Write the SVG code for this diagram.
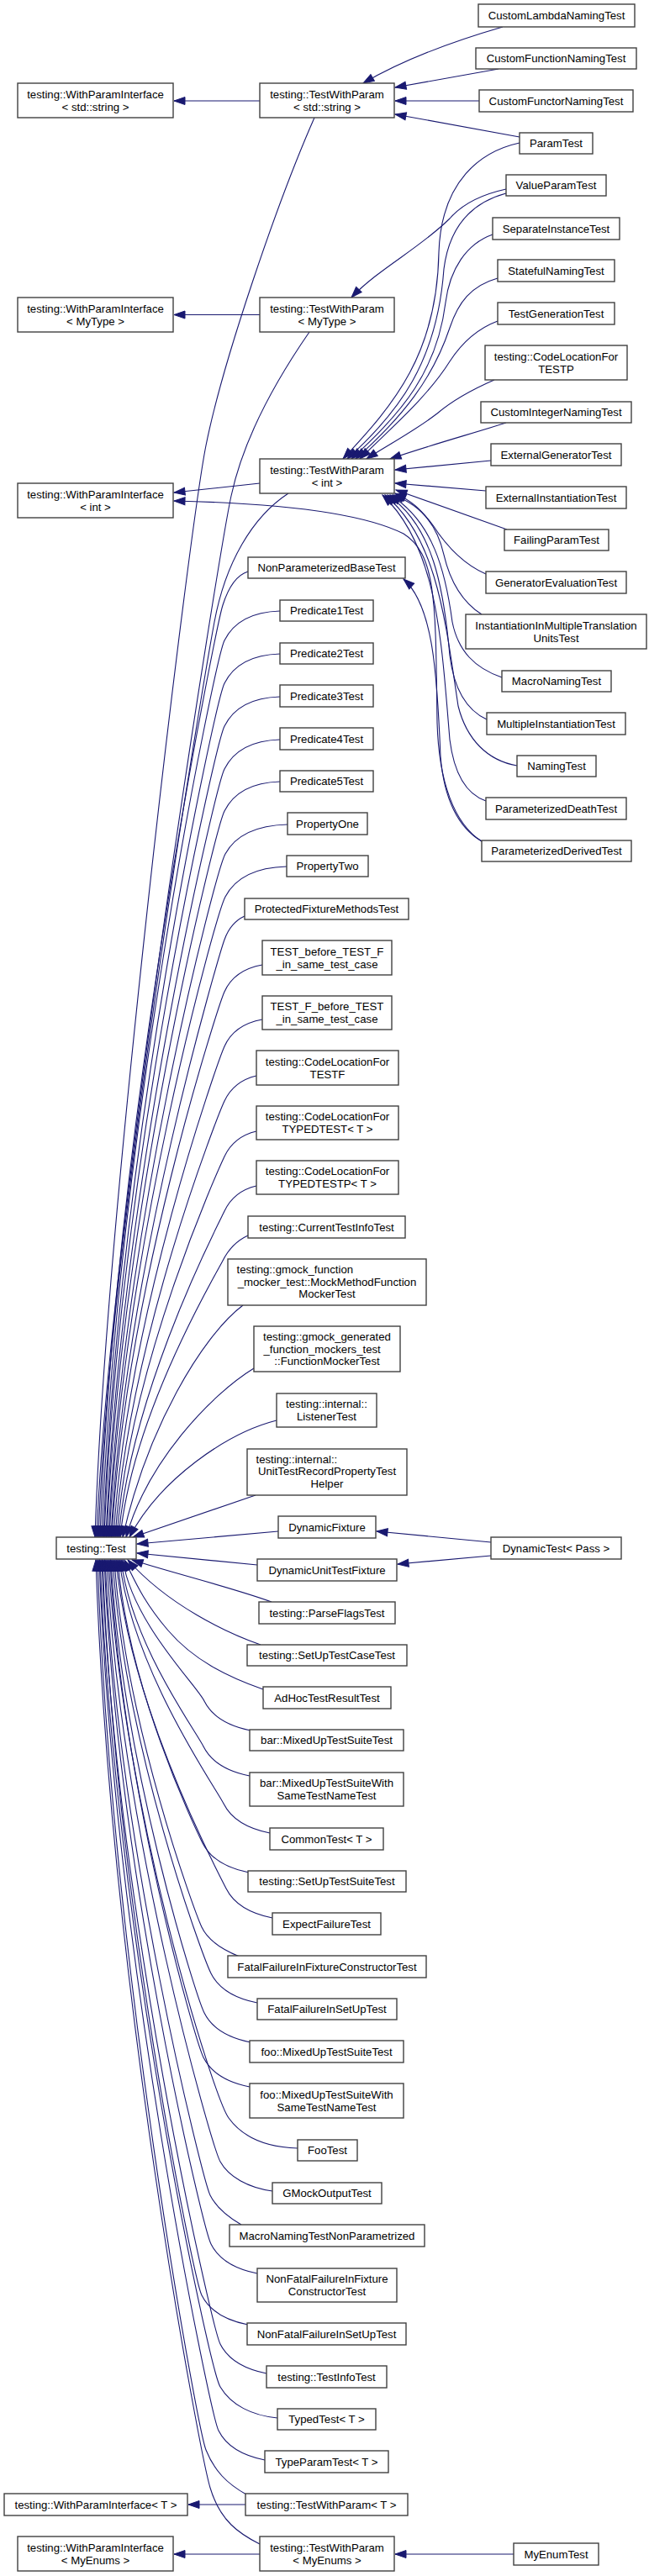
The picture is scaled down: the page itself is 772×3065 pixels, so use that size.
<svg xmlns="http://www.w3.org/2000/svg" width="772" height="3065" viewBox="0 0 772 3065">
<style>
.node rect{fill:#fff;stroke:#404040;stroke-width:1.4}
.node text{font-family:"Liberation Sans",Arial,sans-serif;font-size:13.2px;fill:#000;text-anchor:middle}
.node text.l{text-anchor:start}
#edges path{fill:none;stroke:#191970;stroke-width:1.1;marker-end:url(#arr)}
</style>
<defs>
<marker id="arr" markerUnits="userSpaceOnUse" markerWidth="14" markerHeight="11" refX="13" refY="5" orient="auto" overflow="visible">
<path d="M0,0.5 L13,5 L0,9.5 z" fill="#191970" stroke="#191970" stroke-width="1"/>
</marker>
</defs>
<rect width="772" height="3065" fill="#fff"/>
<g id="edges">
<path d="M309,120 L207,120"/>
<path d="M309,374.5 L207,374.5"/>
<path d="M309,575 L207,586"/>
<path d="M573,1001 C540,980 522,930 520,860 C518,720 520,660 480,635 C420,605 300,598 207,596"/>
<path d="M292,2980 L224,2980"/>
<path d="M309,3039 L207,3039"/>
<path d="M611,3039 L470,3039"/>
<path d="M598,32 C560,43 490,65 432,99"/>
<path d="M593,82 L470,104"/>
<path d="M570,120 L470,120"/>
<path d="M618,163 L470,136"/>
<path d="M602,225 C570,232 548,245 535,260 C500,295 450,320 418,354"/>
<path d="M618,170 C572,180 525,215 522,300 C520,420 470,480 408,546"/>
<path d="M602,230 C565,240 535,265 528,320 C520,430 475,490 413,546"/>
<path d="M586,279 C555,290 535,320 530,360 C520,440 480,490 418,546"/>
<path d="M592,331 C560,340 545,360 535,390 C515,450 480,495 423,546"/>
<path d="M592,382 C565,392 548,410 535,430 C510,470 470,505 428,546"/>
<path d="M588,452 C565,462 540,475 520,492 C490,515 460,530 436,546"/>
<path d="M602,503 C565,515 510,530 464,546"/>
<path d="M584,548 L470,559"/>
<path d="M578,584 L470,575"/>
<path d="M603,630 L471,583"/>
<path d="M578,683 C548,670 528,645 515,625 C500,605 488,595 470,587"/>
<path d="M573,731 C548,715 535,690 528,660 C520,625 500,600 467,589"/>
<path d="M597,806 C565,795 545,775 538,740 C530,680 515,620 464,589"/>
<path d="M579,856 C555,845 540,820 535,780 C528,700 515,625 461,589"/>
<path d="M615,911 C580,905 555,880 545,840 C530,740 520,640 458,589"/>
<path d="M578,953 C555,945 540,920 535,880 C525,760 520,650 455,589"/>
<path d="M573,1001 C545,985 528,950 524,900 C520,800 515,720 480,689"/>
<path d="M584,1835 L448,1822"/>
<path d="M584,1851 L473,1861"/>
<path d="M374,140 C330,240 265,430 245,530 S125,1450 113,1829"/>
<path d="M368,395 C330,450 290,520 275,590 S128,1480 115,1829"/>
<path d="M343,587 C300,615 268,670 255,740 S130,1470 117,1829"/>
<path d="M295,680 C282,684 272,698 265,720 S137,1330 119,1829"/>
<path d="M333,727 C300,728 278,740 267,762 S139,1349 121,1829"/>
<path d="M333,778 C300,779 278,791 267,813 S140,1372 123,1829"/>
<path d="M333,829 C300,830 278,842 267,864 S141,1395 124,1829"/>
<path d="M333,880 C300,881 278,893 267,915 S143,1418 126,1829"/>
<path d="M333,930 C300,931 278,943 267,965 S144,1440 127,1829"/>
<path d="M342,981 C305,982 280,994 268,1016 S146,1463 129,1829"/>
<path d="M341,1031 C305,1032 280,1044 268,1067 S147,1486 130,1829"/>
<path d="M291,1090 C280,1095 272,1104 267,1118 S148,1509 132,1829"/>
<path d="M312,1148 C290,1152 275,1162 267,1180 S149,1537 133,1829"/>
<path d="M312,1213 C290,1217 275,1227 267,1245 S151,1566 135,1829"/>
<path d="M305,1280 C288,1284 275,1293 267,1310 S153,1595 137,1829"/>
<path d="M305,1346 C288,1350 275,1359 267,1376 S154,1625 139,1829"/>
<path d="M305,1411 C288,1415 275,1424 267,1441 S156,1654 141,1829"/>
<path d="M295,1470 C282,1476 272,1486 265,1500 S158,1681 143,1829"/>
<path d="M289,1553 C240,1590 175,1700 146,1829"/>
<path d="M302,1628 C250,1660 175,1740 150,1829"/>
<path d="M329,1690 C270,1705 190,1760 154,1829"/>
<path d="M304,1779 L158,1829"/>
<path d="M331,1822 L163,1837"/>
<path d="M306,1862 L163,1848"/>
<path d="M323,1906 C280,1890 200,1870 157,1856"/>
<path d="M310,1957 C270,1943 200,1910 152,1856"/>
<path d="M313,2010 C270,1995 230,1975 200,1940 S160,1880 148,1856"/>
<path d="M298,2059 C273,2054 253,2044 243,2024 S158,1931 146,1856"/>
<path d="M297,2113 C272,2108 252,2098 242,2078 S156,1955 144,1856"/>
<path d="M321,2181 C296,2176 276,2166 266,2146 S157,1986 142,1856"/>
<path d="M296,2228 C271,2223 251,2213 241,2193 S152,2007 140,1856"/>
<path d="M324,2282 C299,2277 279,2267 269,2247 S154,2031 138,1856"/>
<path d="M285,2328 C265,2320 248,2310 240,2293 S149,2052 136,1856"/>
<path d="M306,2383 C281,2378 261,2368 251,2348 S148,2077 134,1856"/>
<path d="M298,2430 C273,2425 253,2415 243,2395 S145,2098 132,1856"/>
<path d="M297,2483 C272,2478 252,2468 242,2448 S144,2122 131,1856"/>
<path d="M354,2556 C320,2555 290,2545 272,2520 S146,2154 129,1856"/>
<path d="M324,2607 C295,2603 272,2590 262,2572 S143,2178 127,1856"/>
<path d="M287,2647 C275,2640 258,2628 250,2612 S140,2196 125,1856"/>
<path d="M306,2705 C281,2700 261,2690 251,2670 S139,2222 124,1856"/>
<path d="M295,2766 C270,2761 250,2751 240,2731 S136,2249 122,1856"/>
<path d="M317,2824 C292,2819 272,2809 262,2789 S138,2275 121,1856"/>
<path d="M330,2877 C300,2874 275,2862 262,2840 S136,2298 119,1856"/>
<path d="M315,2927 C290,2922 270,2912 260,2892 S135,2322 118,1856"/>
<path d="M293,2968 C270,2955 255,2940 245,2915 S132,2332 116,1856"/>
<path d="M309,3027 C285,3015 262,3000 250,2960 S131,2360 114,1856"/>
</g>
<g id="n_WPI_string" class="node"><rect x="21" y="99" width="185" height="41"/><text x="113.5" y="116.5">testing::WithParamInterface</text><text x="113.5" y="131.5">&lt; std::string &gt;</text></g>
<g id="n_WPI_MyType" class="node"><rect x="21" y="354" width="185" height="41"/><text x="113.5" y="371.5">testing::WithParamInterface</text><text x="113.5" y="386.5">&lt; MyType &gt;</text></g>
<g id="n_WPI_int" class="node"><rect x="21" y="575" width="185" height="41"/><text x="113.5" y="592.5">testing::WithParamInterface</text><text x="113.5" y="607.5">&lt; int &gt;</text></g>
<g id="n_Test" class="node"><rect x="67" y="1829" width="95" height="26"/><text x="114.5" y="1846.5">testing::Test</text></g>
<g id="n_WPI_T" class="node"><rect x="5" y="2967" width="218" height="26"/><text x="114" y="2984.5">testing::WithParamInterface&lt; T &gt;</text></g>
<g id="n_WPI_MyEnums" class="node"><rect x="21" y="3018" width="185" height="41"/><text x="113.5" y="3035.5">testing::WithParamInterface</text><text x="113.5" y="3050.5">&lt; MyEnums &gt;</text></g>
<g id="n_TWP_string" class="node"><rect x="309" y="99" width="160" height="41"/><text x="389" y="116.5">testing::TestWithParam</text><text x="389" y="131.5">&lt; std::string &gt;</text></g>
<g id="n_TWP_MyType" class="node"><rect x="309" y="354" width="160" height="41"/><text x="389" y="371.5">testing::TestWithParam</text><text x="389" y="386.5">&lt; MyType &gt;</text></g>
<g id="n_TWP_int" class="node"><rect x="309" y="546" width="160" height="41"/><text x="389" y="563.5">testing::TestWithParam</text><text x="389" y="578.5">&lt; int &gt;</text></g>
<g id="n_NonParameterizedBaseTest" class="node"><rect x="295" y="663" width="187" height="25"/><text x="388.5" y="680">NonParameterizedBaseTest</text></g>
<g id="n_Predicate1Test" class="node"><rect x="333" y="714" width="111" height="25"/><text x="388.5" y="731">Predicate1Test</text></g>
<g id="n_Predicate2Test" class="node"><rect x="333" y="765" width="111" height="25"/><text x="388.5" y="782">Predicate2Test</text></g>
<g id="n_Predicate3Test" class="node"><rect x="333" y="815" width="111" height="26"/><text x="388.5" y="832.5">Predicate3Test</text></g>
<g id="n_Predicate4Test" class="node"><rect x="333" y="866" width="111" height="26"/><text x="388.5" y="883.5">Predicate4Test</text></g>
<g id="n_Predicate5Test" class="node"><rect x="333" y="917" width="111" height="25"/><text x="388.5" y="934">Predicate5Test</text></g>
<g id="n_PropertyOne" class="node"><rect x="342" y="967" width="95" height="26"/><text x="389.5" y="984.5">PropertyOne</text></g>
<g id="n_PropertyTwo" class="node"><rect x="341" y="1018" width="97" height="25"/><text x="389.5" y="1035">PropertyTwo</text></g>
<g id="n_ProtectedFixtureMethodsTest" class="node"><rect x="291" y="1069" width="195" height="25"/><text x="388.5" y="1086">ProtectedFixtureMethodsTest</text></g>
<g id="n_TEST_before_TEST_F" class="node"><rect x="312" y="1119" width="154" height="41"/><text x="389" y="1136.5">TEST_before_TEST_F</text><text x="389" y="1151.5">_in_same_test_case</text></g>
<g id="n_TEST_F_before_TEST" class="node"><rect x="312" y="1185" width="154" height="40"/><text x="389" y="1202">TEST_F_before_TEST</text><text x="389" y="1217">_in_same_test_case</text></g>
<g id="n_CLF_TESTF" class="node"><rect x="305" y="1250" width="169" height="41"/><text x="389.5" y="1267.5">testing::CodeLocationFor</text><text x="389.5" y="1282.5">TESTF</text></g>
<g id="n_CLF_TYPEDTEST" class="node"><rect x="305" y="1316" width="169" height="40"/><text x="389.5" y="1333">testing::CodeLocationFor</text><text x="389.5" y="1348">TYPEDTEST&lt; T &gt;</text></g>
<g id="n_CLF_TYPEDTESTP" class="node"><rect x="305" y="1381" width="169" height="40"/><text x="389.5" y="1398">testing::CodeLocationFor</text><text x="389.5" y="1413">TYPEDTESTP&lt; T &gt;</text></g>
<g id="n_CurrentTestInfoTest" class="node"><rect x="295" y="1447" width="187" height="26"/><text x="388.5" y="1464.5">testing::CurrentTestInfoTest</text></g>
<g id="n_MockMethodFunctionMockerTest" class="node"><rect x="271" y="1498" width="236" height="55"/><text class="l" x="281.5" y="1514.5">testing::gmock_function</text><text x="389" y="1529.5">_mocker_test::MockMethodFunction</text><text x="389" y="1543.5">MockerTest</text></g>
<g id="n_FunctionMockerTest" class="node"><rect x="302" y="1578" width="174" height="54"/><text x="389" y="1594.5">testing::gmock_generated</text><text class="l" x="313.5" y="1609.5">_function_mockers_test</text><text x="389" y="1623.5">::FunctionMockerTest</text></g>
<g id="n_ListenerTest" class="node"><rect x="329" y="1658" width="119" height="40"/><text x="388.5" y="1675">testing::internal::</text><text x="388.5" y="1690">ListenerTest</text></g>
<g id="n_UnitTestRecordPropertyTestHelper" class="node"><rect x="294" y="1724" width="190" height="55"/><text class="l" x="304.5" y="1741">testing::internal::</text><text x="389" y="1755">UnitTestRecordPropertyTest</text><text x="389" y="1770">Helper</text></g>
<g id="n_DynamicFixture" class="node"><rect x="331" y="1804" width="116" height="26"/><text x="389" y="1821.5">DynamicFixture</text></g>
<g id="n_DynamicUnitTestFixture" class="node"><rect x="306" y="1855" width="166" height="26"/><text x="389" y="1872.5">DynamicUnitTestFixture</text></g>
<g id="n_ParseFlagsTest" class="node"><rect x="308" y="1906" width="162" height="26"/><text x="389" y="1923.5">testing::ParseFlagsTest</text></g>
<g id="n_SetUpTestCaseTest" class="node"><rect x="294" y="1957" width="190" height="25"/><text x="389" y="1974">testing::SetUpTestCaseTest</text></g>
<g id="n_AdHocTestResultTest" class="node"><rect x="313" y="2007" width="152" height="26"/><text x="389" y="2024.5">AdHocTestResultTest</text></g>
<g id="n_bar_MixedUpTestSuiteTest" class="node"><rect x="297" y="2058" width="183" height="25"/><text x="388.5" y="2075">bar::MixedUpTestSuiteTest</text></g>
<g id="n_bar_MixedUpTestSuiteWithSameTestNameTest" class="node"><rect x="297" y="2109" width="183" height="40"/><text x="388.5" y="2126">bar::MixedUpTestSuiteWith</text><text x="388.5" y="2141">SameTestNameTest</text></g>
<g id="n_CommonTest" class="node"><rect x="321" y="2175" width="135" height="26"/><text x="388.5" y="2192.5">CommonTest&lt; T &gt;</text></g>
<g id="n_SetUpTestSuiteTest" class="node"><rect x="295" y="2226" width="188" height="25"/><text x="389" y="2243">testing::SetUpTestSuiteTest</text></g>
<g id="n_ExpectFailureTest" class="node"><rect x="324" y="2276" width="129" height="26"/><text x="388.5" y="2293.5">ExpectFailureTest</text></g>
<g id="n_FatalFailureInFixtureConstructorTest" class="node"><rect x="271" y="2327" width="236" height="26"/><text x="389" y="2344.5">FatalFailureInFixtureConstructorTest</text></g>
<g id="n_FatalFailureInSetUpTest" class="node"><rect x="306" y="2378" width="166" height="25"/><text x="389" y="2395">FatalFailureInSetUpTest</text></g>
<g id="n_foo_MixedUpTestSuiteTest" class="node"><rect x="297" y="2428" width="183" height="26"/><text x="388.5" y="2445.5">foo::MixedUpTestSuiteTest</text></g>
<g id="n_foo_MixedUpTestSuiteWithSameTestNameTest" class="node"><rect x="297" y="2479" width="183" height="41"/><text x="388.5" y="2496.5">foo::MixedUpTestSuiteWith</text><text x="388.5" y="2511.5">SameTestNameTest</text></g>
<g id="n_FooTest" class="node"><rect x="354" y="2546" width="71" height="25"/><text x="389.5" y="2563">FooTest</text></g>
<g id="n_GMockOutputTest" class="node"><rect x="324" y="2597" width="130" height="25"/><text x="389" y="2614">GMockOutputTest</text></g>
<g id="n_MacroNamingTestNonParametrized" class="node"><rect x="273" y="2647" width="232" height="26"/><text x="389" y="2664.5">MacroNamingTestNonParametrized</text></g>
<g id="n_NonFatalFailureInFixtureConstructorTest" class="node"><rect x="306" y="2699" width="166" height="40"/><text x="389" y="2716">NonFatalFailureInFixture</text><text x="389" y="2731">ConstructorTest</text></g>
<g id="n_NonFatalFailureInSetUpTest" class="node"><rect x="294" y="2764" width="189" height="26"/><text x="388.5" y="2781.5">NonFatalFailureInSetUpTest</text></g>
<g id="n_TestInfoTest" class="node"><rect x="317" y="2815" width="143" height="26"/><text x="388.5" y="2832.5">testing::TestInfoTest</text></g>
<g id="n_TypedTest" class="node"><rect x="330" y="2866" width="117" height="25"/><text x="388.5" y="2883">TypedTest&lt; T &gt;</text></g>
<g id="n_TypeParamTest" class="node"><rect x="315" y="2916" width="147" height="26"/><text x="388.5" y="2933.5">TypeParamTest&lt; T &gt;</text></g>
<g id="n_TWP_T" class="node"><rect x="292" y="2967" width="193" height="26"/><text x="388.5" y="2984.5">testing::TestWithParam&lt; T &gt;</text></g>
<g id="n_TWP_MyEnums" class="node"><rect x="309" y="3018" width="160" height="41"/><text x="389" y="3035.5">testing::TestWithParam</text><text x="389" y="3050.5">&lt; MyEnums &gt;</text></g>
<g id="n_CustomLambdaNamingTest" class="node"><rect x="569" y="5" width="186" height="27"/><text x="662" y="23">CustomLambdaNamingTest</text></g>
<g id="n_CustomFunctionNamingTest" class="node"><rect x="566" y="57" width="191" height="25"/><text x="661.5" y="74">CustomFunctionNamingTest</text></g>
<g id="n_CustomFunctorNamingTest" class="node"><rect x="570" y="107" width="183" height="26"/><text x="661.5" y="124.5">CustomFunctorNamingTest</text></g>
<g id="n_ParamTest" class="node"><rect x="618" y="158" width="87" height="25"/><text x="661.5" y="175">ParamTest</text></g>
<g id="n_ValueParamTest" class="node"><rect x="602" y="208" width="119" height="25"/><text x="661.5" y="225">ValueParamTest</text></g>
<g id="n_SeparateInstanceTest" class="node"><rect x="586" y="259" width="151" height="26"/><text x="661.5" y="276.5">SeparateInstanceTest</text></g>
<g id="n_StatefulNamingTest" class="node"><rect x="592" y="309" width="139" height="26"/><text x="661.5" y="326.5">StatefulNamingTest</text></g>
<g id="n_TestGenerationTest" class="node"><rect x="592" y="360" width="139" height="26"/><text x="661.5" y="377.5">TestGenerationTest</text></g>
<g id="n_CLF_TESTP" class="node"><rect x="577" y="411" width="169" height="41"/><text x="661.5" y="428.5">testing::CodeLocationFor</text><text x="661.5" y="443.5">TESTP</text></g>
<g id="n_CustomIntegerNamingTest" class="node"><rect x="572" y="478" width="179" height="25"/><text x="661.5" y="495">CustomIntegerNamingTest</text></g>
<g id="n_ExternalGeneratorTest" class="node"><rect x="584" y="528" width="155" height="26"/><text x="661.5" y="545.5">ExternalGeneratorTest</text></g>
<g id="n_ExternalInstantiationTest" class="node"><rect x="578" y="579" width="167" height="26"/><text x="661.5" y="596.5">ExternalInstantiationTest</text></g>
<g id="n_FailingParamTest" class="node"><rect x="600" y="630" width="124" height="25"/><text x="662" y="647">FailingParamTest</text></g>
<g id="n_GeneratorEvaluationTest" class="node"><rect x="578" y="680" width="167" height="26"/><text x="661.5" y="697.5">GeneratorEvaluationTest</text></g>
<g id="n_InstantiationInMultipleTranslationUnitsTest" class="node"><rect x="554" y="731" width="215" height="41"/><text x="661.5" y="748.5">InstantiationInMultipleTranslation</text><text x="661.5" y="763.5">UnitsTest</text></g>
<g id="n_MacroNamingTest" class="node"><rect x="597" y="798" width="130" height="25"/><text x="662" y="815">MacroNamingTest</text></g>
<g id="n_MultipleInstantiationTest" class="node"><rect x="579" y="848" width="165" height="26"/><text x="661.5" y="865.5">MultipleInstantiationTest</text></g>
<g id="n_NamingTest" class="node"><rect x="615" y="899" width="94" height="25"/><text x="662" y="916">NamingTest</text></g>
<g id="n_ParameterizedDeathTest" class="node"><rect x="578" y="949" width="167" height="26"/><text x="661.5" y="966.5">ParameterizedDeathTest</text></g>
<g id="n_ParameterizedDerivedTest" class="node"><rect x="573" y="1000" width="178" height="25"/><text x="662" y="1017">ParameterizedDerivedTest</text></g>
<g id="n_DynamicTest_Pass" class="node"><rect x="584" y="1829" width="155" height="26"/><text x="661.5" y="1846.5">DynamicTest&lt; Pass &gt;</text></g>
<g id="n_MyEnumTest" class="node"><rect x="611" y="3026" width="101" height="26"/><text x="661.5" y="3043.5">MyEnumTest</text></g>
</svg>
